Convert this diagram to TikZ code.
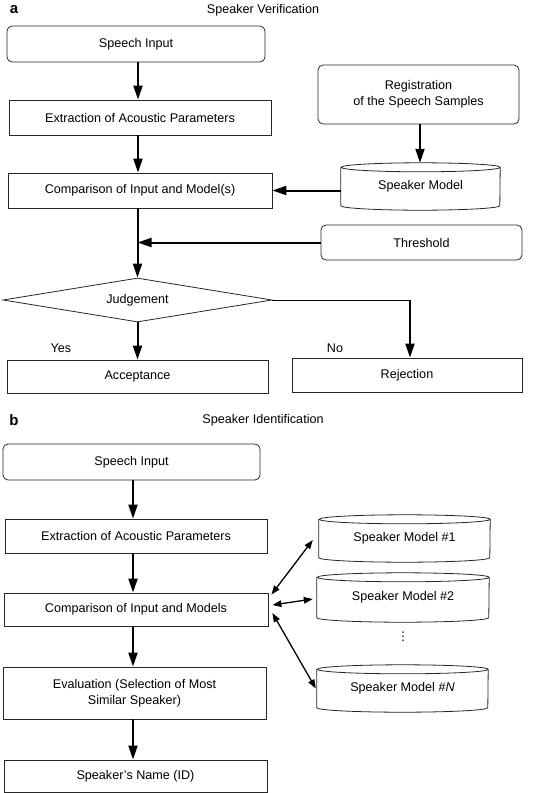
\documentclass[tikz,border=0pt]{standalone}
\usepackage{fontspec}
\setmainfont{Liberation Sans}
\newfontfamily\symfont{DejaVu Sans}
\usetikzlibrary{arrows.meta,shapes.geometric,calc}
\newcommand\cylout[2]{%
  \draw[cylline] ([yshift=-4.5pt]#1.north west) -- ([yshift=4.5pt]#1.south west)
    arc[start angle=180,end angle=360,x radius=#2pt,y radius=4.5pt]
    -- ([yshift=-4.5pt]#1.north east)
    arc[start angle=0,end angle=180,x radius=#2pt,y radius=4.5pt]
    arc[start angle=180,end angle=360,x radius=#2pt,y radius=4.5pt];}
\begin{document}
\begin{tikzpicture}[x=1pt,y=1pt,
  txtfont/.style={font=\fontsize{12.6}{16}\selectfont},
  box/.style={draw=black!85, line width=0.8pt, rectangle, inner sep=2pt, txtfont, align=center},
  rbox/.style={box, rounded corners=5pt},
  cyl/.style={rectangle, inner sep=0pt, txtfont, align=center},
  cylline/.style={draw=black!85, line width=0.8pt},
  arr/.style={line width=2pt, -{Triangle[length=14pt,width=9pt]}},
  darr/.style={line width=1.3pt, {Triangle[length=9pt,width=6.5pt]}-{Triangle[length=9pt,width=6.5pt]}},
  thinline/.style={line width=0.9pt},
  lbl/.style={font=\fontsize{15}{16}\selectfont\bfseries},
  ttl/.style={txtfont}
]
\useasboundingbox (0,0) rectangle (553,-793);
\coordinate (colA) at (138,0);
\coordinate (colB) at (133,0);
\coordinate (rcol) at (410,0);
% ---------- part a ----------
\node[lbl] (la) at (14,-10) {a};
\node[ttl] (ta) at (263,-10) {Speaker Verification};
\node[rbox, minimum width=258pt, minimum height=36pt] (sinA) at (136,-44) {Speech Input};
\node[box, minimum width=262pt, minimum height=35pt] (extA) at (140,-117.5) {Extraction of Acoustic Parameters};
\node[rbox, minimum width=201pt, minimum height=59pt] (regA) at (418.5,-94.5) {Registration\\of the Speech Samples};
\node[cyl, minimum width=159pt, minimum height=47pt] (smA) at (420.5,-186.5) {\raisebox{-5pt}{Speaker Model}};
\cylout{smA}{79.5}
\node[box, minimum width=264pt, minimum height=35pt] (cmpA) at (140,-190.5) {Comparison of Input and Model(s)};
\node[rbox, minimum width=201pt, minimum height=35pt] (thrA) at (421.5,-242.5) {Threshold};
\node[diamond, draw=black!85, line width=0.8pt, txtfont, aspect=6.1, minimum width=269pt, minimum height=44pt, inner sep=0pt] (dia) at (137.5,-300) {Judgement};
\node[box, minimum width=261pt, minimum height=33pt] (accA) at (137.5,-376.5) {Acceptance};
\node[box, minimum width=230pt, minimum height=34pt] (rejA) at (407,-375) {Rejection};
\node[ttl] (yes) at (61,-348) {Yes};
\node[ttl] (no) at (335,-348) {No};

\draw[arr] (sinA.south -| colA) -- (extA.north -| colA);
\draw[arr] (extA.south -| colA) -- (cmpA.north -| colA);
\draw[arr] (regA.south -| rcol) ++(10,0) coordinate (rs) -- (rs |- smA.north);
\draw[arr] (cmpA.east -| smA.west) -- (cmpA.east);
\coordinate (join) at (dia.north |- thrA.west);
\draw[arr] (dia.north |- cmpA.south) -- (dia.north);
\draw[arr] (thrA.west) -- (join);
\draw[arr] (dia.south) -- (dia.south |- accA.north);
\draw[thinline] (dia.east) -- (dia.east -| rcol) coordinate (corner);
\draw[arr] (corner) -- (corner |- rejA.north);
% ---------- part b ----------
\node[lbl] (lb) at (14,-420) {b};
\node[ttl] (tb) at (263,-420) {Speaker Identification};
\node[rbox, minimum width=257pt, minimum height=36pt] (sinB) at (131.5,-462) {Speech Input};
\node[box, minimum width=262pt, minimum height=34pt] (extB) at (136,-536) {Extraction of Acoustic Parameters};
\node[box, minimum width=264pt, minimum height=33pt] (cmpB) at (136,-609.5) {Comparison of Input and Models};
\node[box, minimum width=263pt, minimum height=52pt] (evalB) at (134.5,-693) {Evaluation (Selection of Most\\Similar Speaker)};
\node[box, minimum width=263pt, minimum height=32pt] (nameB) at (135.5,-776) {Speaker’s Name (ID)};
\node[cyl, minimum width=171pt, minimum height=47pt] (sm1) at (404.5,-538.5) {\raisebox{-5pt}{Speaker Model \#1}};
\cylout{sm1}{85.5}
\node[cyl, minimum width=172pt, minimum height=49pt] (sm2) at (403,-597.5) {\raisebox{-5pt}{Speaker Model \#2}};
\cylout{sm2}{86}
\node[cyl, minimum width=171pt, minimum height=47pt] (smN) at (402.5,-688.5) {\raisebox{-5pt}{Speaker Model \#\textit{N}}};
\cylout{smN}{85.5}
\node[inner sep=0pt, font=\symfont\fontsize{12}{14}\selectfont] (dots) at (403,-637) {⋮};

\draw[arr] (sinB.south -| colB) -- (extB.north -| colB);
\draw[arr] (extB.south -| colB) -- (cmpB.north -| colB);
\draw[arr] (cmpB.south -| colB) -- (evalB.north -| colB);
\draw[arr] (evalB.south -| colB) -- (nameB.north -| colB);
\draw[darr] ([shift={(3,-2)}]cmpB.north east) -- ([shift={(-6,-1.5)}]sm1.west);
\draw[darr] ([shift={(4,4.5)}]cmpB.east) -- ([shift={(-4,-1.5)}]sm2.west);
\draw[darr] ([shift={(4,-3.5)}]cmpB.east) -- ([shift={(-1,0)}]smN.west);
\end{tikzpicture}
\end{document}
